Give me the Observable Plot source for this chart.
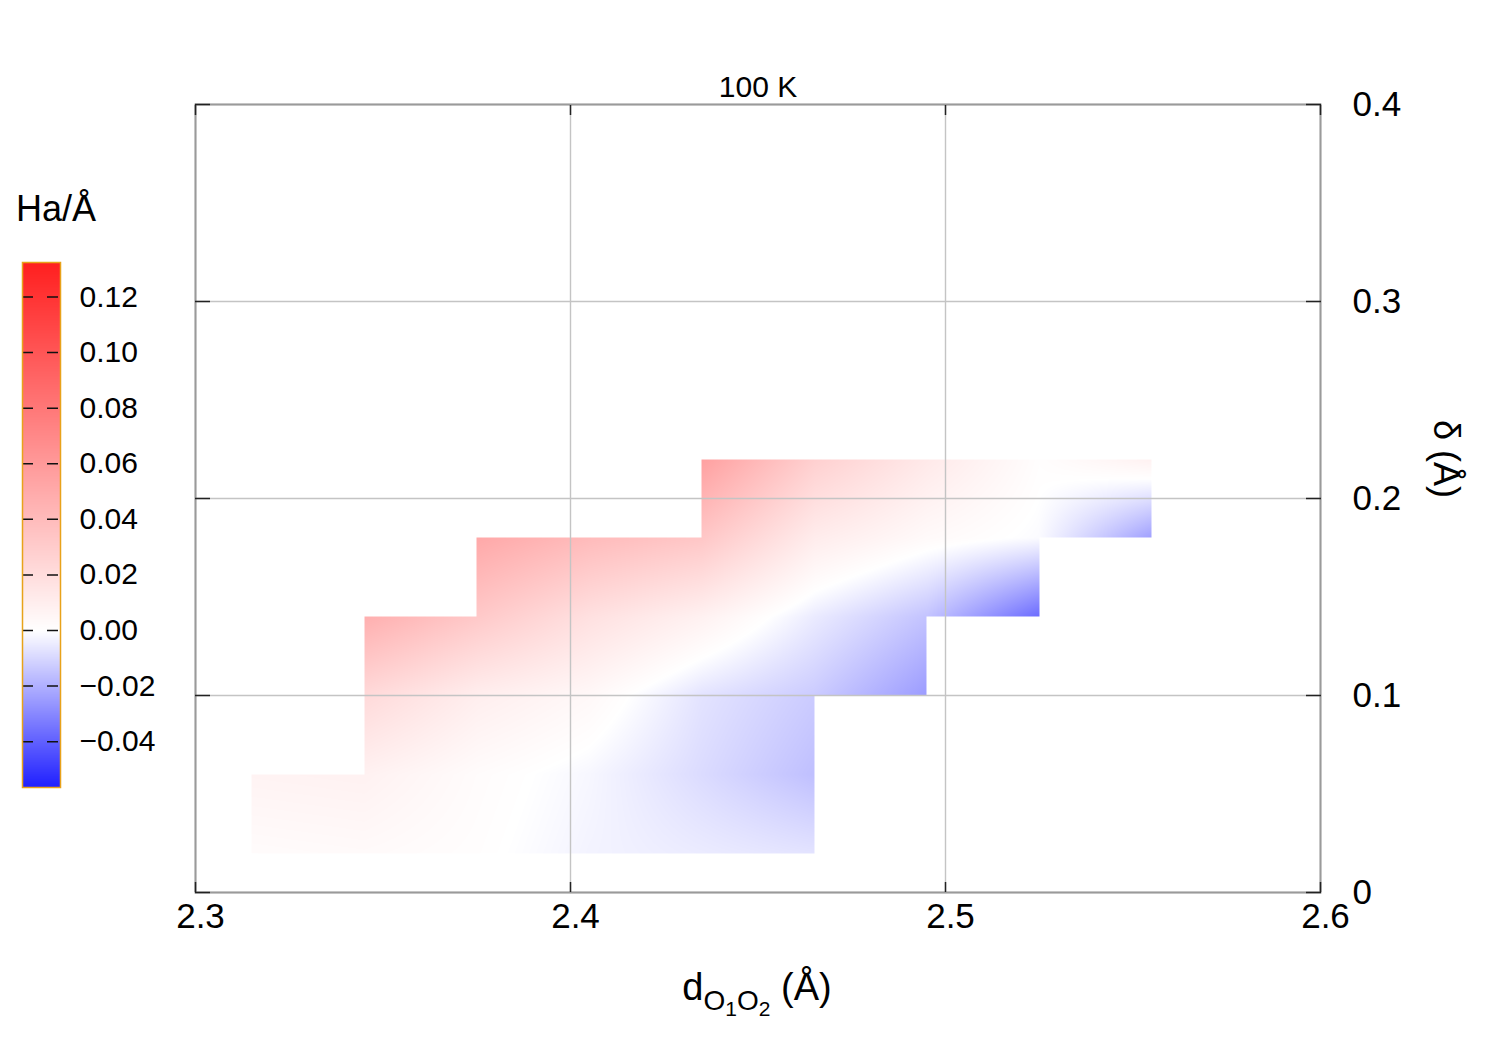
<!DOCTYPE html>
<html>
<head>
<meta charset="utf-8">
<script src="https://cdn.jsdelivr.net/npm/d3@7"></script>
<script src="https://cdn.jsdelivr.net/npm/@observablehq/plot@0.6"></script>
<style>
  html, body { margin: 0; padding: 0; background: #fff; }
  #wrap { position: relative; width: 1500px; height: 1050px; font-family: "Liberation Sans", Arial, sans-serif; }
  #main, #legend { position: absolute; left: 0; top: 0; }
  #legendTitle { position: absolute; left: 16px; top: 188px; font-size: 36px; color: #000; }
</style>
</head>
<body>
<div id="wrap">
  <div id="main"></div>
  <div id="legend"></div>
  <div id="legendTitle">Ha/Å</div>
</div>
<script>
// ---- data: values (Ha/Å) read at the grid nodes of the map ----
const xNodes = [2.315, 2.345, 2.375, 2.405, 2.435, 2.465, 2.495, 2.525, 2.555];
const yNodes = [0.02, 0.06, 0.10, 0.14, 0.18, 0.22];
const row002 = [0.002, 0.003, 0.001, -0.003, -0.005, -0.007, null, null, null];
const row006 = [0.007, 0.008, 0.002, -0.002, -0.009, -0.016, null, null, null];
const row010 = [null, 0.022, 0.010, 0.004, -0.007, -0.013, -0.025, null, null];
const row014 = [null, 0.047, 0.032, 0.018, 0.008, -0.005, -0.015, -0.037, null];
const row018 = [null, null, 0.051, 0.040, 0.033, 0.011, 0.003, -0.001, -0.024];
const row022 = [null, null, null, null, 0.056, 0.028, 0.013, 0.001, 0.008];
const rows = [row002, row006, row010, row014, row018, row022];

// axes / ticks
const xTicks = [2.3, 2.4, 2.5, 2.6];
const xTickLabels = ["2.3", "2.4", "2.5", "2.6"];
const yTicks = [0, 0.1, 0.2, 0.3, 0.4];
const yTickLabels = ["0", "0.1", "0.2", "0.3", "0.4"];
const colorDomain = [-0.0565, 0.1324];
const colorStops = ["#1f1fff", "#ffffff", "#ff1f1f"];
const legendTicks = [-0.04, -0.02, 0, 0.02, 0.04, 0.06, 0.08, 0.10, 0.12];
const legendTickLabels = ["−0.04", "−0.02", "0.00", "0.02", "0.04", "0.06", "0.08", "0.10", "0.12"];

const colorScale = {
  type: "diverging",
  pivot: 0,
  symmetric: false,
  domain: colorDomain,
  interpolate: d3.piecewise(d3.interpolateRgb, colorStops)
};

// bilinear shading between the grid nodes (only where all four corners exist)
function fieldAt(x, y) {
  const i = d3.bisectRight(xNodes, x) - 1;
  const j = d3.bisectRight(yNodes, y) - 1;
  if (i < 0 || j < 0 || i >= xNodes.length - 1 || j >= yNodes.length - 1) return NaN;
  const v00 = rows[j][i], v10 = rows[j][i + 1], v01 = rows[j + 1][i], v11 = rows[j + 1][i + 1];
  if (v00 == null || v10 == null || v01 == null || v11 == null) return NaN;
  const t = (x - xNodes[i]) / (xNodes[i + 1] - xNodes[i]);
  const u = (y - yNodes[j]) / (yNodes[j + 1] - yNodes[j]);
  return (v00 * (1 - t) + v10 * t) * (1 - u) + (v01 * (1 - t) + v11 * t) * u;
}

const fontFamily = "Liberation Sans, Arial, sans-serif";
const xLab = new Map(xTicks.map((d, k) => [d, xTickLabels[k]]));
const yLab = new Map(yTicks.map((d, k) => [d, yTickLabels[k]]));

const main = Plot.plot({
  width: 1500,
  height: 1050,
  marginLeft: 195,
  marginRight: 180,
  marginTop: 104,
  marginBottom: 158,
  style: { fontFamily, background: "white", overflow: "visible" },
  x: { domain: [2.3, 2.6] },
  y: { domain: [0, 0.4] },
  color: colorScale,
  marks: [
    Plot.raster({ fill: fieldAt, x1: 2.3, x2: 2.6, y1: 0, y2: 0.4, pixelSize: 1, imageRendering: "auto" }),
    Plot.gridX(xTicks, { stroke: "#c4c4c4", strokeOpacity: 1, strokeWidth: 1.4 }),
    Plot.gridY(yTicks, { stroke: "#c4c4c4", strokeOpacity: 1, strokeWidth: 1.4 }),
    Plot.frame({ stroke: "#9a9a9a", strokeWidth: 2 }),
    Plot.axisX(xTicks, { anchor: "bottom", tickSize: -10, tickFormat: () => "", stroke: "#222", strokeWidth: 1.5 }),
    Plot.axisX(xTicks, { anchor: "top", tickSize: -10, tickFormat: () => "", stroke: "#222", strokeWidth: 1.5 }),
    Plot.axisY(yTicks, { anchor: "left", tickSize: -15, tickFormat: () => "", stroke: "#222", strokeWidth: 1.5 }),
    Plot.axisY(yTicks, { anchor: "right", tickSize: -15, tickFormat: () => "", stroke: "#222", strokeWidth: 1.5 }),
    Plot.axisX(xTicks, { anchor: "bottom", tickSize: 0, tickPadding: 11, dx: 5, tickFormat: d => xLab.get(d), fontSize: 35, fill: "#000", label: null }),
    Plot.axisY(yTicks, { anchor: "right", tickSize: 0, tickPadding: 32, tickFormat: d => yLab.get(d), fontSize: 35, fill: "#000", label: null })
  ]
});
document.getElementById("main").appendChild(main);

// titles / axis labels added to the main svg
const svg = d3.select(main.tagName === "svg" ? main : main.querySelector("svg"));
svg.append("text")
  .attr("x", 758).attr("y", 97)
  .attr("text-anchor", "middle")
  .attr("font-size", 30).attr("font-family", fontFamily)
  .text("100 K");

const xl = svg.append("text")
  .attr("x", 757).attr("y", 1000)
  .attr("text-anchor", "middle")
  .attr("font-size", 38).attr("font-family", fontFamily);
xl.append("tspan").text("d");
xl.append("tspan").attr("dy", 10).attr("font-size", 28).text("O");
xl.append("tspan").attr("dy", 6).attr("font-size", 21).text("1");
xl.append("tspan").attr("dy", -6).attr("font-size", 28).text("O");
xl.append("tspan").attr("dy", 6).attr("font-size", 21).text("2");
xl.append("tspan").attr("dy", -16).text(" (Å)");

svg.append("text")
  .attr("transform", "translate(1434,459) rotate(90)")
  .attr("text-anchor", "middle")
  .attr("font-size", 36).attr("font-family", fontFamily)
  .text("δ (Å)");

// vertical colour bar legend
const legTickMap = new Map(legendTicks.map((d, k) => [d, legendTickLabels[k]]));
const legend = Plot.plot({
  width: 200,
  height: 1050,
  marginLeft: 22,
  marginRight: 140,
  marginTop: 262,
  marginBottom: 263,
  style: { fontFamily, background: "transparent", overflow: "visible" },
  x: { domain: [0, 1], axis: null },
  y: { domain: colorDomain, axis: null },
  color: colorScale,
  marks: [
    Plot.raster({ fill: (x, y) => y, x1: 0, x2: 1, y1: colorDomain[0], y2: colorDomain[1], pixelSize: 1 }),
    Plot.ruleY(legendTicks, { stroke: "#111", strokeWidth: 1.5, strokeDasharray: "11,14" }),
    Plot.frame({ stroke: "#e8a21a", strokeWidth: 1.5 }),
    Plot.axisY(legendTicks, { anchor: "right", tickSize: 0, tickPadding: 19, tickFormat: d => legTickMap.get(d), fontSize: 30, fill: "#000", label: null })
  ]
});
document.getElementById("legend").appendChild(legend);
</script>
</body>
</html>
